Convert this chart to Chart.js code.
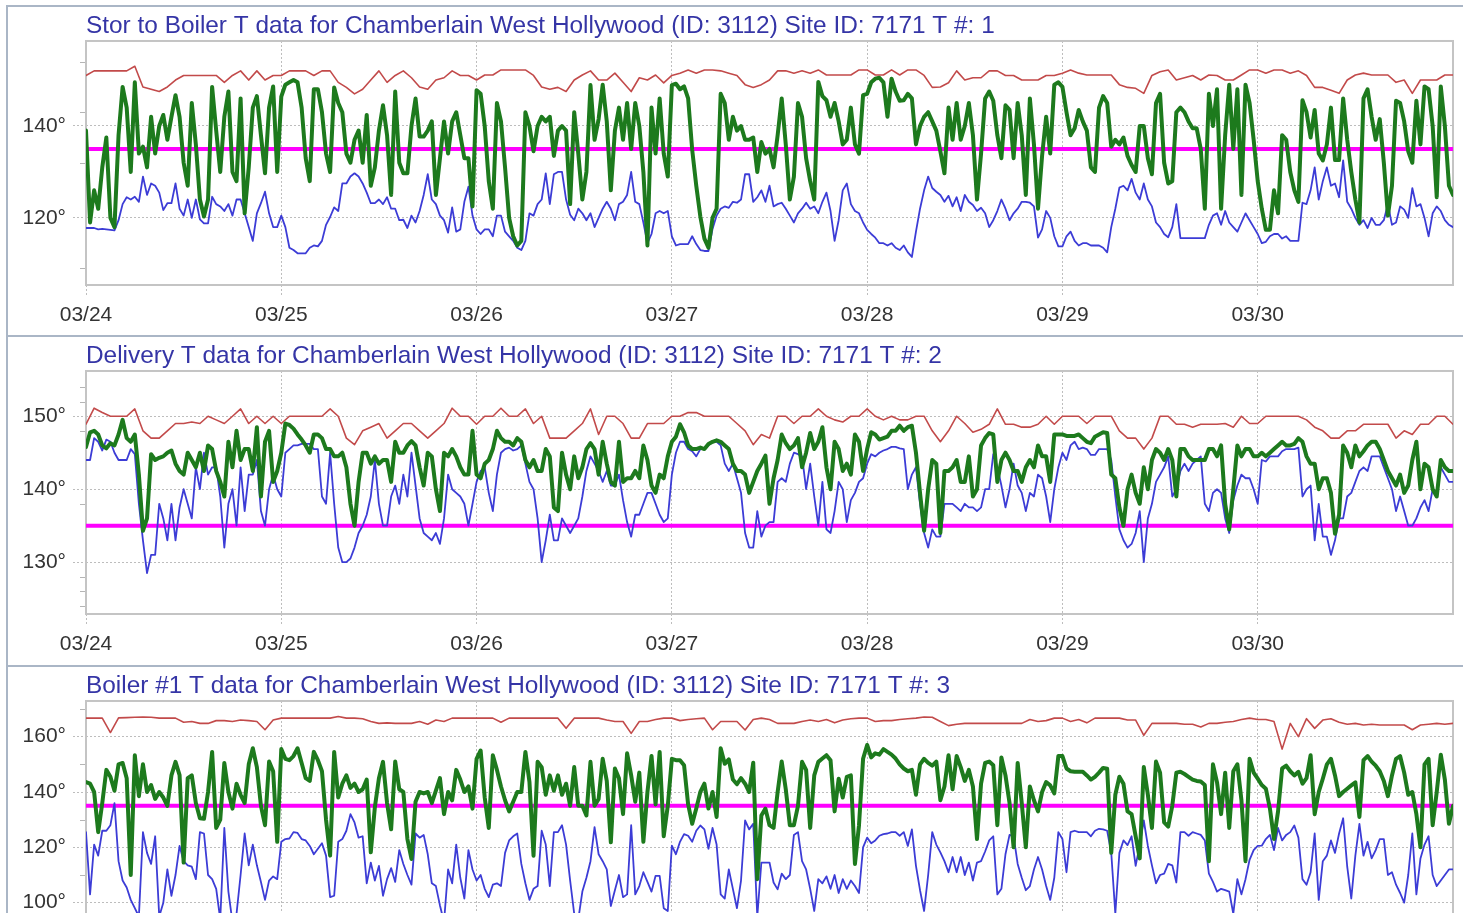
<!DOCTYPE html>
<html>
<head>
<meta charset="utf-8">
<script src="https://cdn.jsdelivr.net/npm/chart.js@4.4.1/dist/chart.umd.min.js"></script>
<style>
html,body{margin:0;padding:0;background:#ffffff;width:1463px;height:913px;overflow:hidden;}
.line-h{position:absolute;left:6px;width:1457px;height:0;border-top:2px solid #aab6c6;}
.line-v{position:absolute;left:6px;top:5px;width:0;height:910px;border-left:2px solid #aab6c6;}
canvas{position:absolute;left:0;}
</style>
</head>
<body>
<div class="line-h" style="top:5px"></div>
<div class="line-h" style="top:335px"></div>
<div class="line-h" style="top:665px"></div>
<div class="line-v"></div>
<canvas id="c1" width="1463" height="327" style="top:8px"></canvas>
<canvas id="c2" width="1463" height="327" style="top:338px"></canvas>
<canvas id="c3" width="1463" height="330" style="top:668px"></canvas>
<script>
// ---------- shared axis labels ----------
const dayLabels = ['03/24','03/25','03/26','03/27','03/28','03/29','03/30'];
const setpoint = [135, 135, 135];

const titles = [
  'Stor to Boiler T data for Chamberlain West Hollywood (ID: 3112) Site ID: 7171 T #: 1',
  'Delivery T data for Chamberlain West Hollywood (ID: 3112) Site ID: 7171 T #: 2',
  'Boiler #1 T data for Chamberlain West Hollywood (ID: 3112) Site ID: 7171 T #: 3'
];

// ---------- panel 1 : Stor to Boiler (red hourly, green/blue half-hourly) ----------
const storRed = [
151,152,152,152,152,152,153,148.5,148,147.5,148.5,150,151,151,151,151,151,149.5,151,152,150,152,150,151,
151,152,152,152,151,152,152,149.5,148.4,147,148,150,152,149.5,151,152,150.5,148.5,148,150,150.5,152,151,151,
150,151.1,151.1,152.2,152.2,152.2,152.2,151,148.5,148,148.4,147.5,150,151.1,152,150,150,151.5,149.5,147.5,150.5,150,151.1,149.4,
151,151.5,152.2,151.5,152.2,152.2,152,151.5,151,149,148.4,149,150,152,152,151.5,152,151.5,152.2,151.1,151.1,151.1,151.1,152.2,
152.2,151.1,151.1,152.2,151.1,152.2,152.2,151,148.4,148.5,149.4,152,150,150.5,150.5,152,152,151,151,150,150,150,151,151,
151.5,152.2,151.5,151.1,151.1,151.1,151.1,149,148.4,148.2,147.1,151,151.8,152.2,150,150.5,151,150,151.1,151,150,150,151.1,152.2,
152.2,151.5,152.2,152.2,151.5,152,151,148.4,148.4,147.8,147.1,150,151.1,151.5,151.1,151.1,151.1,149.5,150,147.1,150,150,150,151.1,
151.1];
const storGreen = [
139,119,126,122,131,137.5,120,118,138,148.5,144,130,149.5,134,135.5,131,142,134,140,142.4,137,142,146.7,142,132,127,145,136,124,120.3,124,148.5,139,130,142,147.5,130,128,146,121,131,144,146.5,138,129.7,144,148.6,130,
146.4,149,149.5,150,149.5,144,133,128,148,148,143,134,130,148.4,145,143,134,132,137,139,132,142.4,127,131,139,144.5,138,125,147.5,132,129.7,129.7,140,146,137.7,137.7,139,141,125,133,141,134,141,143,138,133,133,122.5,
147.8,147,140,128,122,145,141,131,120,116,114,115,143,140,134.5,140,142,141,142,133.5,139,140,139,123,143,134,124,130,148.9,137,141.5,149,141,126,139,144,137,145,135,145,140,130,114,144,134,146,134,129,
148.9,149.2,148,148.6,146,134.8,127,120.3,115.5,113.5,120,122,147,145,137,142,139,140,137,137,137.5,130,136.5,134,135,131,138,146,136,124,129,145,142,133,128,124,149.6,146.5,145.6,142,145,141,136,137,144,136,134,146.7,
147,149.5,150.3,150.5,149.5,142,150.3,147.5,145.5,145.6,147,146,136,140,142,143,141,139,134.5,129.7,144,137,145,137,140,145,138,124,134,146,147.5,145.5,138,133,144.5,143.5,133,145,138,125,146,136,122,133.5,142,134,149,149.5,
148.5,143,138,139.5,143.5,141,139,131,130,144,146.5,145,135.5,137,136,137.5,133.5,131.5,130,140,140,133,129.5,145,147,132,127.5,128,143,144,143,141,139.5,139.5,135,122,147,140,148,122,138,149,135,148,125,149,145,137,
128,122,117.4,117.4,126,121,138,137,130,126,123.5,145.6,143,137.5,143.5,134,132.5,136,144,132.6,132.6,146,137,130,124,119,146,148,142,137,141.5,132,120.5,127,145.5,145,141,134.5,132,145.5,136,148.6,148,140,124.5,148.6,140,127,
125];
const storBlue = [
117.8,117.8,117.8,117.5,117.6,117.5,117.4,117.3,119.5,123,124.5,124,124.6,123.5,129,125,127.5,127,125.5,121.7,123.2,123.2,127.5,122,120.5,124,120,124,119.7,118.8,118.8,124.6,123,122.5,121.5,123,120.5,124,124,121,118,115,121,123.2,125.7,121,118,118,
120.5,118,113.5,113,112.3,112.3,112.3,113.5,114,113.8,115,118.5,120.2,122.3,121.5,127.5,127.5,129,129.7,129,127.5,125.5,123.2,123.2,124,123,124.5,122,122,119.5,119.6,117.8,120.5,119,121.5,125,129.5,124,123,120.5,119.5,116.8,122.3,117,117.5,123.5,126.8,120.5,
117.5,116.5,117.5,117.5,116,120.5,120.5,117,116,115,113.5,113,115,121,120.5,123,124,129.7,123,129.5,130,130,124,120.7,119.5,122,121,119.5,121,118,120,122,123.5,122,119.5,123,123.5,125,130,123.5,123,119,114.5,116.5,121,121.5,121,121.5,
116,114,114.3,114.3,114.3,116,114.3,113,112.8,112.8,117.6,120.5,122,122.5,122.2,123.5,123.3,124,129.5,129.5,123.5,124.5,126,123.5,127,122.5,123,123.3,122,120.5,119,121,122,123.3,122,122.5,121,123.5,125.5,121.5,115,119.5,126,127.5,123,121.5,121,119,
117.4,116.5,115.7,114.5,114.5,114,114.5,113.5,113,114,112.5,111.5,117,122,126,129,126.5,125.7,125,123.5,124.8,122.5,124.5,121.5,125,123.5,122.8,121.5,122.2,121,118,119.5,121.5,124,122,119.5,121,122,123.5,123.5,123.3,122.5,115.7,117.5,121.5,120,116,113.8,
113.8,116,117,115,114,114.5,114.5,114,114,114,113.5,112.5,118,122,126.6,127,126,128.5,125.5,124,127.5,124,122.5,119,118,116.5,115.8,118,123,115.6,115.6,115.6,115.6,115.6,115.6,115.6,118.5,120.5,121,118.5,121.5,119,118,117,119,121,119.5,118,
116.5,114.5,114.8,116,116.5,116.5,115.5,116,115,115,115,123.3,123,126,131,124,128,131,127,127.5,124.5,132.5,123.5,122,120,118.5,119.5,117.8,120,118.5,118.5,119.5,123,118.5,119,122.5,121.8,120,126.5,122.5,123,120,116,121,122.5,121.5,119.5,118.5,
118];

// ---------- panel 2 : Delivery ----------
const delivRed = [
148.9,151.1,150.5,150,150,150,151,148,147,147,148,149,149,149.2,149,150,149.5,149,150,151,149,150,149,150,
149,150,150,150,150,150,151,150,147,146.1,148,148.5,149,147,148,149,149,148,147,148,149,151.1,150,150,
148.9,150,150,151.1,150,150,151,149,150,147,147,147,148,149,151,147.5,150,150,149,147,147,149,149,149,
150,150,150.5,150.5,150,150,150,150,149,148,146.1,147.5,147,150,150,149,150,150,151,150,149.5,149.2,150,150,
151,150,149.5,150,149.5,149.5,150,150,148,146.5,148,150,149,147.8,148.2,148.9,151,148.9,148.9,148.5,148.5,148.9,150,148.9,
150,150,150,149,150,150,150,148,147,147,145.5,147,150,150,148.9,148.9,148.5,148.9,148.9,148.9,149,148.5,150,149,
149,150,150,150,150,150,149.5,148.5,148,147,147,148,148,148.9,148.9,148.9,148.9,147,148,147.5,148.9,148.9,150,150,
148.9];
const delivGreen = [
145.8,147.8,148,147.5,146,145.6,146.3,146,147.5,149.5,147,146.5,147.5,142,134.3,136,144.8,144,144.3,144.5,145,145.3,143.5,142.5,142,145,144,143,145,142.5,146,145.5,142.5,141,139,146.5,143,148,144,145.5,145.5,142.5,148.5,139,146.5,148,141,142.5,
145,149,148.8,148.3,147.5,146.8,146,145,147.5,147.5,147,145.5,145.5,144.5,144.5,145,143,138,135,141,145,145,143.5,144.5,143.5,144,144,141,146.5,145,145,146,146.6,146,143,140.5,145,144.5,140,137,145,144.5,145.5,144.5,143,142,142,148,
142,141.5,143.5,144,145.5,148,147,146.5,146.5,146,147,146.5,144,143,144,142.5,142.5,145.5,144.5,137.5,137,145,142,140,144.5,141.5,143,145.5,146.3,145.5,142,146.5,143.5,141,140.5,146.5,141,141.5,141.5,142.5,141.5,146,144,140.5,139.5,142,141.5,144.5,
146.5,147.2,148.9,147.8,146,145.5,145.5,145.7,145.5,146.2,146.5,146.7,146.5,146,145.5,143.5,142.5,142.5,142,139.5,141,142.5,143.5,144.6,138,141.5,144,147.5,146.3,145.5,146,147,143,145,147.7,145.5,146.5,148.5,143,140,146.5,145.5,142.5,143.5,142,147.5,146.5,142.5,
145.5,147.8,147.5,146.8,147,147.2,148,148,148.7,148,148.5,148.7,145,139.5,134.3,140,144,143.5,134,142.5,142.5,143,144,141,141,144.5,139,140,146,147,147.7,147.5,141,144,145,144,142.5,142.5,141,143,144,143,146,144.5,144.5,141,147.5,147.5,
147.5,147.3,147.3,147.3,147.5,147,146.5,146.3,147.2,147.5,147.8,147.7,142,141.5,137.5,135,140,142,139.5,138,143,140,144,145.5,145,144,145.5,144,139,145.5,145.5,144.5,144,144,144,144,145.5,145.5,144.5,146,138,134.5,140,146,144.5,145.5,145.5,144.5,
144.5,145,144.5,145,145.5,146,146.5,146,146,146.2,147,146.5,144.5,143.5,143.5,140,141.5,141.5,139.5,133.9,136.5,146,145,143,146,144.5,145.2,146,146.5,146.5,145.5,144,142.5,141.5,140.5,142,139.5,140.5,144,146.5,140,143.5,143,140,139,144,143,142.5,
142.5];
const delivBlue = [
144,144,147,146.5,145.3,146.8,146.5,145,144,144,144,145.5,144.8,138,133,128.5,131,131,138,136,133,138,133,137.5,140,138,136,143,140,145,142,143,143,139,132,138,140,135,143,137,142,142,144,137,135,140,142,140,
139,145,145.5,146,146,146.2,146.2,146.2,145.5,145.5,139,138,145,138,132,130,130,130.5,132,134,135,136.5,139,144,138,135,135,139,140.5,138,142,139,145,140.5,136,134,133.5,133,134,132.5,136,142,140,139.5,139,138,135,138,
141,142.5,143,139.5,137,142,145,145.5,145.7,145.3,145.5,146,143.5,141,140,136,130,133,136.5,133,133,136,135,134,135,136,139,142.5,144.5,143.5,142.5,141,142.5,140.5,140.5,142,138.5,135.5,133.5,136.5,136.5,138,139.5,139.5,138,136.5,135.5,136,
142,145,146.5,146.5,145.5,145.2,144.5,145.5,145.5,146,146.5,146.5,146,143.5,142.5,143.5,141.5,139.5,134,132,132,137,133.5,135,135.5,135.5,141,141.5,141,143.5,145,144.8,144.5,140,143.5,139,135,141,134.5,134,137,141,140,135.5,138.5,139.5,141,141.5,
143.5,144.8,144.5,145,145.3,145.5,145.8,145.8,145.6,145.5,140,142,143,138,134,132,134.5,133.5,133.5,138,138,138,137.5,137,138,137.5,137.5,137,137.5,140,140,144.8,143,140.5,137.5,140,143.5,140.5,139.5,137,139.5,139,142,141.5,139,135.5,140,143,
145,144,146,146.5,145.5,145.7,145.5,144.7,144.7,145.5,145.5,145.5,144,139,134.5,133,132,132.5,134,137,130,136,138,141,142,143,144.5,139,140,142.5,143.5,142.5,143.5,144,144.5,138,137,139.5,140,139.5,136,134,138.5,140.5,142,141.5,141.5,140,
138,144,143.8,144.5,144.5,144.5,145.2,145.5,145.5,145.5,145.7,139,140,140.5,133,138,133.5,133.5,131,133,136,136,139,139.5,141,142.5,143,142.5,144.5,144.5,144.5,143,141.5,140,137,139,137,135,135,136,137.5,138.5,137,140,139.5,143,142,141,
141];

// ---------- panel 3 : Boiler #1 ----------
const boilerRed = [
166.7,166.7,166.7,161.5,166.8,166.9,167,167.1,167,166.7,166.7,166.7,165.2,165.5,164.8,164.8,165.8,165.8,165.5,166,165.8,165.5,162.5,166,
166.7,166.7,166.7,166.7,166.7,166.7,166.7,167.3,166.7,166.7,166.5,165.5,164.8,165,164.8,164.8,164.8,165.5,164.5,166,165.5,166.7,166.7,166.7,
166.7,166.7,166.7,165.2,166.7,166.7,166.7,166.7,166.7,166.7,166.7,163,166.7,166.7,166.7,166.7,166,165.5,165.5,161.2,165.5,165.5,166.2,166.7,
166.7,165.8,166.2,166.5,166.7,162.5,165.5,165.5,165.5,162.4,166.2,166.7,166.2,164.8,164.8,164.8,165.5,166,165.5,166.2,165,166,166.5,166.7,
166.7,165.5,165.8,165.8,166.2,166.5,166.7,167.1,167,165.5,164,164.5,164.8,164.8,164.8,164.8,164.8,164.8,164.8,164.8,166.2,165.5,165.8,166.7,
166.7,165.5,166.2,165,166.7,166.7,166.7,166.7,166,166,160.5,164.8,164.8,164.8,164.8,164.5,164.5,163.5,164.8,164.8,165.2,165.5,166.2,166.7,
166.2,166.2,165.5,155.5,164.8,160,166.5,163,166,166.5,165.2,164.5,164.8,164.2,164.5,164.2,164.2,164.2,164.2,162.5,164.2,164.5,164.8,164.5,
164.8];
const boilerGreen = [
143.6,143,140,125.5,136,148,145.5,140.5,150,150.5,145,110,153.3,138.5,150,140,142.5,137.5,140,138,135,146,150.9,146.1,114.5,145,146,136,130.5,130.3,140,154.5,127,130,150.5,140,134,143,139,136,150,155.8,149,135,128,151,147.5,122,
155.5,152,151.5,153,155.8,150.5,145,144,154.5,151.5,147.5,130,117,154.5,138,143,146,141.5,143,140,141,144.5,118.2,134.5,145,150.9,136,126.5,151,141,140,123,115.8,136.5,140,139.5,140,136,140.5,145,132,140,137,148,144.5,140,142,134,
152,155,138,127,153.3,148,142,137,133,136.5,140,140,154.5,143.6,117,150.9,149,139,146,140.5,146,139,143,135,149,135,135,131.5,150.9,135,137.5,152,144,121.8,148.5,145,132,154,146,136.5,147,122,140,153,135.5,154.5,124,135,
152,151.5,151.5,149.7,135.5,128.5,134,140,143,134,140,131,155.8,150.2,151.8,144.5,142.8,145,143,140,150.6,108.5,131.5,134,128,127,140,151,141,128,128,135,150.9,148,127,146,150.9,152.1,153.3,151.5,133,144.8,138,145.5,146,114,128,152,
157,152.5,154,153.5,155.5,154.5,153.5,152.1,150,148.5,147.5,148,139,150,152,150.5,149.5,151,137,142,153.3,141,153,149,144,148,142,123,143,150.5,151,149.7,128,152.5,146,136,120,150.5,136,120,142,137,133,140,143.6,142.4,139.5,153,
153,148.5,147.5,147.3,147.3,147.3,146,144.5,145.5,147,148.7,148.4,118,139,145.5,143,133,132,124,116,149,139,127,151,147,129,127.5,135,147,147.3,146.5,145.5,144.5,144,143.8,142.5,115,150,143.5,132,147,127,147.5,150,137,115,152,147,
144.8,142.5,141.2,134,123,133,148.5,149.5,147.5,146,147.3,143,145,153.3,132,140,144.8,150,152,146,138.5,140,141.2,142.4,143.5,131,151.5,153,151,149.5,147.5,144,138.5,146,152,153,147,139,140,132,120,150,152,128,140,153.5,144.5,128.5,
135];
const boilerBlue = [
125.5,103,121,117,126,126,128,136,115,108,105.5,101,98,95,125.5,118,114,124,95,100,112,102.5,110,120.5,115,113.5,113,108.5,125.5,125,110,108.5,105,94,127,104,93,96,110,125,113.5,121,113.5,107.5,101,108,109.5,108.5,
122,123,123.2,125.5,125.2,123,122.5,120.5,117.5,119.5,121.5,117,102,102.5,122,123,126,132,129,123.5,124,107,114.5,108,113.3,102.5,108.5,112.5,107.5,119,114,110,106.5,125,123.5,124.5,117.5,107,106,99,93,112,107,121,109,101.5,119,112,
108,110,105,102,106.5,107,106,118,122.5,124,125,114,107,101,105,106,126,121,106,125.5,125.5,128,121,108,96,94,104,109,115,127.3,117.5,115,112,98.8,104.5,110,102,103,128,103,106,111,107.5,104,109.7,109.7,98,97,
120.6,117.5,122,124.8,124.2,122,126,127.9,126.5,119.5,127,121,103,101.5,112,105,98,108,129.7,126.5,128.5,95,114.5,114.5,114.5,107.3,104.8,110.5,108.5,110,124.5,125.5,115,112,105,97,108.5,107,109.5,105,110,103.5,108.5,105,108,106,103.5,120,
123.5,121.5,122.5,124.2,124.8,125,125.5,125.5,124.2,125.5,120.5,126.5,113.3,104.5,97,110,125.5,121,118.2,115,111,116.5,111,116.5,110,114.5,108,114.5,115,118.5,122.5,124,103,105,117.5,124.5,124,114,109,104.5,106,112,116.5,112,106,101,109,125.5,
123,111,125.5,126,125.5,125.5,125.5,124,126,126.7,126.5,126,118,96,118,122.5,120.8,124,113.3,121,129.7,120.5,113.5,107,110,110.5,114,113.5,107.3,125.5,125.5,124.2,125.5,125,124.5,122.5,110.5,107.5,104,105,104.5,104,96,108.5,103,108.5,115.5,119,
120.5,120.6,123,124.5,119,127,122.5,124.5,125.5,127.9,123.5,108.5,106.5,111,125,101,115,117,122.5,118,125,130.5,113,101.5,117,128.5,117,122,116,119,123,123,110,111,106.5,103.5,100,110,125,103,116,121,124,110,106,108,110,112,
112];

// y-axis ranges, label steps and small left tick marks
const yRanges = [[105.4, 158.5], [122.9, 156.2], [84.7, 172.9]];
const yLabelSteps = [20, 10, 20];
const yMinorTicks = [[154, 143, 132, 109], [154, 152, 148, 138, 128, 126, 124], [170, 150, 130, 110]];

// ---------- drawing ----------
const FONT = "'Liberation Sans', Arial, Helvetica, sans-serif";
const COL_RED = '#c24a4a', COL_GREEN = '#1d7a1d', COL_BLUE = '#3c3cd6', COL_MAG = '#ff00ff';
const GRID = '#bdbdbd';

function toPoints(values, hoursPerSample) {
  return values.map((v, i) => ({x: i * hoursPerSample, y: v}));
}

const framePlugin = {
  id: 'plotFrame',
  beforeDatasetsDraw(chart, args, opts) {
    const ctx = chart.ctx, a = chart.chartArea, ys = chart.scales.y;
    ctx.save();
    ctx.strokeStyle = '#c4c4c4';
    ctx.lineWidth = 2;
    ctx.strokeRect(a.left, a.top, a.right - a.left, a.bottom - a.top);
    ctx.strokeStyle = '#b5b5b5';
    ctx.lineWidth = 1;
    (opts.minor || []).forEach(v => {
      const py = Math.round(ys.getPixelForValue(v)) + 0.5;
      ctx.beginPath();
      ctx.moveTo(a.left - 6, py);
      ctx.lineTo(a.left - 1, py);
      ctx.stroke();
    });
    ctx.restore();
  }
};

function makePanel(canvasId, idx, red, green, blue, xAxisHeight) {
  const totalHours = dayLabels.length * 24;
  const sp = setpoint[idx];
  const step = yLabelSteps[idx];
  return new Chart(document.getElementById(canvasId), {
    type: 'line',
    data: {
      datasets: [
        {data: toPoints(green, 0.5), borderColor: COL_GREEN, borderWidth: 4, order: 0},
        {data: toPoints(blue, 0.5), borderColor: COL_BLUE, borderWidth: 1.8, order: 1},
        {data: toPoints(red, 1), borderColor: COL_RED, borderWidth: 1.6, order: 2},
        {data: [{x: 0, y: sp}, {x: totalHours, y: sp}], borderColor: COL_MAG, borderWidth: 4, order: 3}
      ]
    },
    options: {
      responsive: false,
      animation: false,
      devicePixelRatio: 1,
      layout: {padding: {left: 0, right: 10, top: 0, bottom: 0}},
      elements: {
        point: {radius: 0, hoverRadius: 0},
        line: {tension: 0, fill: false, borderJoinStyle: 'round', borderCapStyle: 'round'}
      },
      plugins: {
        legend: {display: false},
        tooltip: {enabled: false},
        title: {
          display: true,
          text: titles[idx],
          align: 'start',
          fullSize: false,
          color: '#3535a6',
          font: {family: FONT, size: 24.4, weight: 'normal', lineHeight: 1.2},
          padding: {top: 3.6, bottom: 0.1}
        },
        plotFrame: {minor: yMinorTicks[idx]}
      },
      scales: {
        x: {
          type: 'linear',
          min: 0,
          max: totalHours,
          afterFit(scale) { scale.height = xAxisHeight; },
          afterBuildTicks(scale) { scale.ticks = scale.ticks.filter(t => t.value % 24 === 0 && t.value < totalHours); },
          ticks: {
            stepSize: 24,
            autoSkip: false,
            maxRotation: 0,
            padding: 6,
            color: '#333333',
            font: {family: FONT, size: 21},
            callback: (v) => dayLabels[Math.round(v / 24)] || ''
          },
          grid: {color: GRID, lineWidth: 1, tickLength: 12, tickColor: GRID, tickBorderDash: [2, 2], tickWidth: 1},
          border: {display: false, dash: [2, 2]}
        },
        y: {
          type: 'linear',
          min: yRanges[idx][0],
          max: yRanges[idx][1],
          afterFit(scale) { scale.width = 86; },
          afterBuildTicks(scale) { scale.ticks = scale.ticks.filter(t => Math.abs(t.value / step - Math.round(t.value / step)) < 1e-6); },
          ticks: {
            stepSize: step,
            padding: 7,
            color: '#333333',
            font: {family: FONT, size: 21},
            callback: (v) => v + '°'
          },
          grid: {color: GRID, lineWidth: 1, tickLength: 13, tickColor: GRID, tickBorderDash: [2, 2], tickWidth: 1},
          border: {display: false, dash: [2, 2]}
        }
      }
    },
    plugins: [framePlugin]
  });
}

makePanel('c1', 0, storRed, storGreen, storBlue, 50);
makePanel('c2', 1, delivRed, delivGreen, delivBlue, 51);
makePanel('c3', 2, boilerRed, boilerGreen, boilerBlue, 53);
</script>
</body>
</html>
